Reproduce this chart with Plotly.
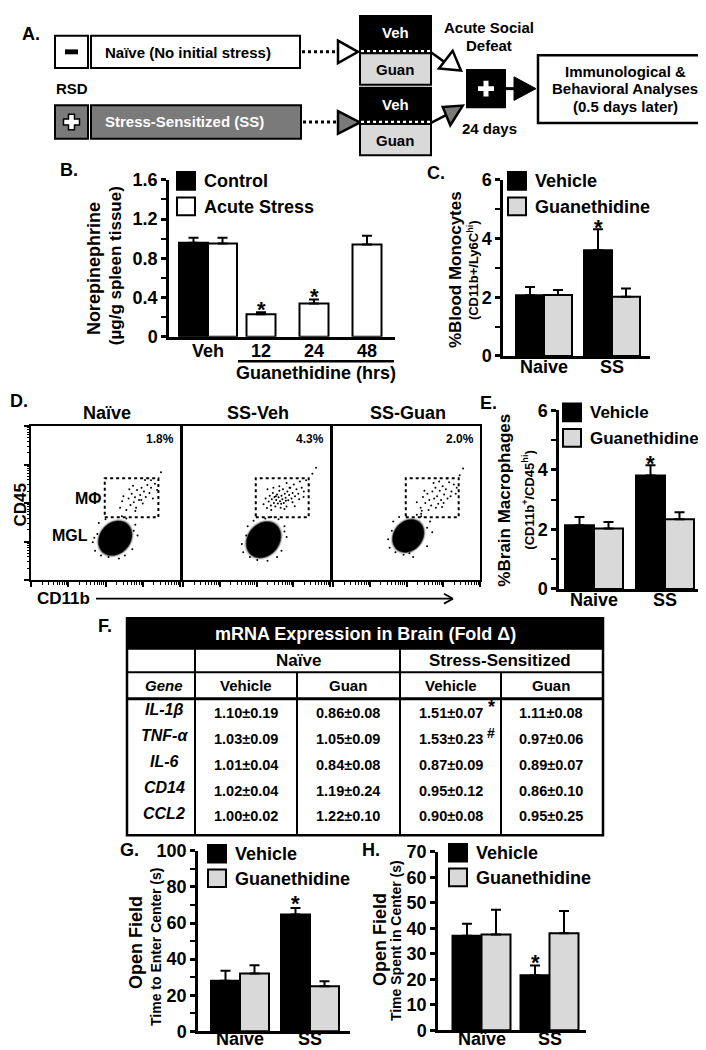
import math
import plotly.graph_objects as go

W, H = 706, 1050
FONT = "Liberation Sans"
LGRAY = "#d9d9d9"
DGRAY = "#7a7a7a"

# ---------------- data ----------------
# Panel B: norepinephrine in spleen
b_groups = ["Veh", "12", "24", "48"]
b_control = [0.96]
b_control_sem = [0.05]
b_stress = [0.95, 0.23, 0.34, 0.94]
b_stress_sem = [0.06, 0.02, 0.04, 0.09]
b_stress_star = [False, True, True, False]

# Panel C: blood monocytes
c_groups = ["Naive", "SS"]
c_vehicle = [2.07, 3.60]
c_vehicle_sem = [0.28, 0.72]
c_guan = [2.08, 2.02]
c_guan_sem = [0.17, 0.28]
c_star = [False, True]

# Panel E: brain macrophages
e_groups = ["Naive", "SS"]
e_vehicle = [2.14, 3.81]
e_vehicle_sem = [0.28, 0.35]
e_guan = [2.03, 2.34]
e_guan_sem = [0.22, 0.24]
e_star = [False, True]

# Panel G: time to enter center
g_groups = ["Naïve", "SS"]
g_vehicle = [28.0, 64.7]
g_vehicle_sem = [5.5, 3.6]
g_guan = [32.0, 25.0]
g_guan_sem = [4.6, 2.7]
g_star = [False, True]

# Panel H: time spent in center
h_groups = ["Naïve", "SS"]
h_vehicle = [37.1, 21.6]
h_vehicle_sem = [4.7, 3.8]
h_guan = [37.6, 38.1]
h_guan_sem = [9.7, 8.7]
h_star = [False, True]

# Panel D: flow cytometry (axis units 0-1000)
flow_titles = ["Naïve", "SS-Veh", "SS-Guan"]
flow_pct = ["1.8%", "4.3%", "2.0%"]
gate_x = [495, 855]
gate_y = [408, 662]
blob_cx = [565, 548, 512]
blob_cy = [272, 262, 287]
blob_major = [122, 128, 116]
blob_minor = [100, 104, 95]
mf_x = [
    [598, 612, 640, 655, 668, 676, 690, 698, 705, 712, 725, 733, 742, 750, 758, 770, 781, 795, 806, 818, 832, 846, 620, 685, 740, 700, 765, 660, 805, 872],
    [548, 562, 571, 583, 590, 598, 604, 611, 618, 622, 628, 634, 640, 645, 650, 655, 660, 664, 670, 676, 680, 686, 692, 698, 704, 710, 716, 722, 730, 738,
     746, 754, 762, 772, 784, 796, 808, 822, 838, 856, 880, 905, 575, 615, 655, 705, 745, 790, 632, 668, 700, 725, 600, 690, 760, 820],
    [570, 596, 612, 628, 642, 655, 668, 676, 688, 697, 708, 716, 726, 735, 746, 756, 768, 779, 790, 806, 822, 842, 862, 650, 700, 742, 684, 722, 775, 622,
     604, 752, 800, 885, 835],
]
mf_y = [
    [470, 512, 455, 530, 488, 560, 505, 538, 470, 585, 520, 552, 600, 498, 575, 540, 618, 565, 600, 530, 625, 585, 545, 612, 520, 448, 650, 590, 648, 700],
    [492, 530, 468, 510, 548, 485, 525, 565, 500, 540, 478, 520, 555, 498, 538, 580, 512, 470, 548, 525, 590, 500, 560, 535, 478, 575, 518, 552, 600, 530,
     565, 620, 545, 590, 560, 640, 600, 575, 648, 615, 690, 730, 590, 600, 610, 630, 505, 525, 545, 495, 515, 600, 455, 462, 480, 540],
    [505, 470, 540, 500, 560, 520, 485, 575, 530, 600, 545, 495, 580, 520, 610, 555, 590, 530, 635, 575, 620, 600, 680, 455, 470, 475, 630, 640, 660, 580,
     450, 500, 545, 725, 560],
]
halo_x = [
    [430, 445, 470, 680, 700, 640, 415, 590, 690, 455, 520, 715, 425, 630, 500, 610],
    [410, 430, 455, 670, 690, 650, 400, 575, 690, 440, 505, 705, 560, 640, 480, 600],
    [385, 400, 425, 640, 660, 600, 375, 545, 640, 410, 480, 675, 600, 520, 450, 570],
]
halo_y = [
    [190, 300, 160, 200, 360, 400, 245, 140, 320, 370, 150, 290, 275, 160, 395, 415],
    [180, 290, 150, 190, 350, 395, 235, 125, 315, 350, 130, 280, 400, 150, 385, 410],
    [210, 320, 180, 220, 380, 415, 265, 150, 340, 380, 165, 310, 430, 175, 410, 425],
]

# Panel F: table
t_genes = ["IL-1β", "TNF-α", "IL-6", "CD14", "CCL2"]
t_naive_veh = ["1.10±0.19", "1.03±0.09", "1.01±0.04", "1.02±0.04", "1.00±0.02"]
t_naive_guan = ["0.86±0.08", "1.05±0.09", "0.84±0.08", "1.19±0.24", "1.22±0.10"]
t_ss_veh = ["1.51±0.07", "1.53±0.23", "0.87±0.09", "0.95±0.12", "0.90±0.08"]
t_ss_guan = ["1.11±0.08", "0.97±0.06", "0.89±0.07", "0.86±0.10", "0.95±0.25"]
t_marks = ["*", "#", "", "", ""]

# ---------------- helpers ----------------
def fx(x):
    return x / W

def fy(y):
    return 1 - y / H

shapes = []
annotations = []
layout = dict(width=W, height=H, margin=dict(l=0, r=0, t=0, b=0),
              paper_bgcolor="white", plot_bgcolor="rgba(0,0,0,0)",
              showlegend=False, barmode="overlay",
              font=dict(family=FONT, color="black"))
fig = go.Figure()
TICKFONT = dict(family=FONT, size=18, color="black", weight="bold")


def rect(x0, y0, x1, y1, fill="white", lw=2, lc="black", dash="solid"):
    shapes.append(dict(type="rect", xref="paper", yref="paper", x0=fx(x0), x1=fx(x1),
                       y0=fy(y1), y1=fy(y0), fillcolor=fill,
                       line=dict(color=lc, width=lw, dash=dash)))


def line(x0, y0, x1, y1, w=2, c="black", dash="solid"):
    shapes.append(dict(type="line", xref="paper", yref="paper", x0=fx(x0), y0=fy(y0),
                       x1=fx(x1), y1=fy(y1), line=dict(color=c, width=w, dash=dash)))


def poly(pts, fill, lw=2, lc="black"):
    path = "M " + " L ".join(f"{fx(x):.5f},{fy(y):.5f}" for x, y in pts) + " Z"
    shapes.append(dict(type="path", xref="paper", yref="paper", path=path,
                       fillcolor=fill, line=dict(color=lc, width=lw)))


def cross(cx, cy, L, t, fill, lw, lc="black"):
    pts = [(cx - t, cy - L), (cx + t, cy - L), (cx + t, cy - t), (cx + L, cy - t),
           (cx + L, cy + t), (cx + t, cy + t), (cx + t, cy + L), (cx - t, cy + L),
           (cx - t, cy + t), (cx - L, cy + t), (cx - L, cy - t), (cx - t, cy - t)]
    poly(pts, fill, lw, lc)


def text(x, y, s, size=15, color="black", xanchor="center", angle=0, italic=False, weight="bold"):
    annotations.append(dict(xref="paper", yref="paper", x=fx(x), y=fy(y), text=s, showarrow=False,
                            xanchor=xanchor, yanchor="middle", textangle=angle,
                            font=dict(family=FONT, size=size, color=color, weight=weight,
                                      style="italic" if italic else "normal")))


def cat_label(xn, x, ypx, s, size=18):
    annotations.append(dict(xref=xn, yref="paper", x=x, y=fy(ypx), text=s, showarrow=False,
                            xanchor="center", yanchor="middle",
                            font=dict(family=FONT, size=size, color="black", weight="bold")))


def axn(n):
    s = "" if n == 1 else str(n)
    return "x" + s, "y" + s, "xaxis" + s, "yaxis" + s


def yaxis_cfg(xn, y0px, ytop, ymax, dtick, minor):
    d = dict(domain=[fy(y0px), fy(ytop)], range=[0, ymax], anchor=xn, showline=True,
             linewidth=2.5, linecolor="black", ticks="outside", ticklen=5, tickwidth=2.5,
             tickcolor="black", tick0=0, dtick=dtick, tickfont=TICKFONT,
             showgrid=False, zeroline=False, fixedrange=True)
    if minor:
        d["minor"] = dict(ticks="outside", tick0=0, dtick=minor, ticklen=5, tickwidth=2,
                          tickcolor="black", showgrid=False)
    return d


def err(sem):
    return dict(type="data", symmetric=False, array=sem, arrayminus=[0] * len(sem),
                color="black", thickness=2, width=5)


def star(xn, yn, x, y, gap):
    annotations.append(dict(xref=xn, yref=yn, x=x, y=y, text="*", showarrow=False,
                            yanchor="middle", yshift=gap - 5,
                            font=dict(family=FONT, size=22, color="black", weight="bold")))


def legend(x, ytop, labels, colors, step=26, size=18):
    for i, (lab, col) in enumerate(zip(labels, colors)):
        yy = ytop + i * step
        rect(x, yy, x + 18, yy + 18, fill=col, lw=2)
        text(x + 25, yy + 9.5, lab, size, xanchor="left")


def two_group_panel(n, xl, xr, c0, c1, bw_px, y0px, ytop, ymax, dtick, minor,
                    groups, veh, veh_sem, guan, guan_sem, stars, gap, label_y):
    xn, yn, xa, ya = axn(n)
    unit = c1 - c0
    bw = bw_px / unit
    pos = list(range(len(groups)))
    layout[xa] = dict(domain=[fx(xl), fx(xr)], range=[(xl - c0) / unit, (xr - c0) / unit],
                      anchor=yn, showline=True, linewidth=2.5, linecolor="black", ticks="",
                      showticklabels=False, showgrid=False, zeroline=False, fixedrange=True)
    layout[ya] = yaxis_cfg(xn, y0px, ytop, ymax, dtick, minor)
    fig.add_trace(go.Bar(x=[p - bw / 2 for p in pos], y=veh, width=bw,
                         marker=dict(color="black", line=dict(color="black", width=2)),
                         error_y=err(veh_sem), xaxis=xn, yaxis=yn))
    fig.add_trace(go.Bar(x=[p + bw / 2 for p in pos], y=guan, width=bw,
                         marker=dict(color=LGRAY, line=dict(color="black", width=2)),
                         error_y=err(guan_sem), xaxis=xn, yaxis=yn))
    for p, v, s, st in zip(pos, veh, veh_sem, stars):
        if st:
            star(xn, yn, p - bw / 2, v + s, gap)
    for p, g in zip(pos, groups):
        cat_label(xn, p, label_y, g)


# ---------------- Panel A ----------------
text(12, 16, "A.", 18, xanchor="left")
rect(47, 18, 80, 51)
rect(57, 32, 70, 37, fill="black", lw=0)
rect(83, 18, 292, 51)
text(95, 35, "Naïve (No initial stress)", 15, xanchor="left")
line(294, 34.5, 330, 34.5, w=3, dash="dot")
poly([(330, 23), (350, 34.5), (330, 46)], "white", 2.5)
text(64, 72, "RSD", 15)
rect(47, 89, 80, 123, fill=DGRAY)
cross(63.5, 106, 8, 3, "white", 1.5)
rect(83, 89, 293, 123, fill=DGRAY)
text(95, 106, "Stress-Sensitized (SS)", 15, color="white", xanchor="left")
line(295, 106, 330, 106, w=3, dash="dot")
poly([(330, 95), (352, 106.5), (330, 118)], DGRAY, 2.5)
# Veh / Guan boxes
rect(352, -2, 423, 35, fill="black", lw=2)
line(353, 34, 422, 34, w=2.5, c="white", dash="dot")
text(387, 15, "Veh", 15, color="white")
rect(352, 36, 423, 68, fill=LGRAY, lw=2)
text(387, 53, "Guan", 15)
rect(352, 71, 423, 107, fill="black", lw=2)
line(353, 106, 422, 106, w=2.5, c="white", dash="dot")
text(387, 88, "Veh", 15, color="white")
rect(352, 108, 423, 140, fill=LGRAY, lw=2)
text(387, 125, "Guan", 15)
# arrows to acute social defeat
line(423, 35, 438, 46, w=2.5)
poly([(444.7, 33.5), (431, 51.5), (453, 53.5)], "white", 2.5)
line(423, 107, 438, 99, w=2.5)
poly([(434.7, 90.7), (454.7, 89.3), (442.3, 109.3)], DGRAY, 2.5)
text(481, 10, "Acute Social", 15)
text(481, 28, "Defeat", 15)
rect(458, 52, 498, 92, fill="black", lw=0)
cross(478, 72, 8, 2.5, "white", 0, lc="white")
line(497, 72, 508, 72, w=3)
poly([(506, 60), (528, 72), (506, 84)], "black", 1)
rect(530, 38, 704, 107, lw=2.5)
text(617, 55, "Immunological &", 15)
text(617, 72, "Behavioral Analyses", 15)
text(617, 90, "(0.5 days later)", 15)
text(481, 113, "24 days", 15)

# ---------------- Panel B ----------------
text(50, 155, "B.", 18, xanchor="left")
xn, yn, xa, ya = axn(1)
b_unit = 53.0
b_c1 = 200.0
b_bw = 29.0 / b_unit
b_pos = [1, 2, 3, 4]
layout[xa] = dict(domain=[fx(161), fx(387)], range=[1 + (161 - b_c1) / b_unit, 1 + (387 - b_c1) / b_unit],
                  anchor=yn, showline=True, linewidth=2.5, linecolor="black", ticks="",
                  showticklabels=False, showgrid=False, zeroline=False, fixedrange=True)
layout[ya] = yaxis_cfg(xn, 325, 165, 1.6, 0.4, 0.2)
fig.add_trace(go.Bar(x=[b_pos[0] - b_bw / 2], y=b_control, width=b_bw,
                     marker=dict(color="black", line=dict(color="black", width=2)),
                     error_y=err(b_control_sem), xaxis=xn, yaxis=yn))
b_x = [b_pos[0] + b_bw / 2] + b_pos[1:]
fig.add_trace(go.Bar(x=b_x, y=b_stress, width=b_bw,
                     marker=dict(color="white", line=dict(color="black", width=2)),
                     error_y=err(b_stress_sem), xaxis=xn, yaxis=yn))
for xx, v, s, st in zip(b_x, b_stress, b_stress_sem, b_stress_star):
    if st:
        star(xn, yn, xx, v + s, 8)
for p, g in zip(b_pos, b_groups):
    cat_label(xn, p, 339, g)
legend(169, 157, ["Control", "Acute Stress"], ["black", "white"])
line(230, 350, 386, 350, w=2.5)
text(308, 362, "Guanethidine (hrs)", 18)
text(86, 256, "Norepinephrine", 18, angle=-90)
text(107, 253, "(µg/g spleen tissue)", 17, angle=-90)

# ---------------- Panel C ----------------
text(417, 158, "C.", 18, xanchor="left")
two_group_panel(2, 495, 642, 536, 604, 28, 344.5, 165, 6, 2, 1,
                c_groups, c_vehicle, c_vehicle_sem, c_guan, c_guan_sem, c_star, 7, 356)
legend(500, 157, ["Vehicle", "Guanethidine"], ["black", LGRAY])
text(447, 257, "%Blood Monocytes", 17, angle=-90)
text(465, 257, "(CD11b+/Ly6C<sup>hi</sup>)", 13, angle=-90)

# ---------------- Panel D ----------------
text(0, 390, "D.", 18, xanchor="left")
box_px = [(23, 172), (175, 322), (325, 472)]
log_minor = [250 * d + 250 * math.log10(k) for d in range(4) for k in range(2, 10)]
for i, (xl, xr) in enumerate(box_px):
    n = 3 + i
    xn, yn, xa, ya = axn(n)
    layout[xa] = dict(domain=[fx(xl), fx(xr)], range=[0, 1000], anchor=yn, showline=True, mirror=True,
                      linewidth=2, linecolor="black", ticks="outside", ticklen=5, tickwidth=1.5,
                      tickcolor="black", tickmode="array", tickvals=[0, 250, 500, 750, 1000],
                      showticklabels=False,
                      minor=dict(ticks="outside", ticklen=2.5, tickwidth=1, tickcolor="black", tickvals=log_minor),
                      showgrid=False, zeroline=False, fixedrange=True)
    yd = dict(domain=[fy(573), fy(416)], range=[0, 1000], anchor=xn, showline=True, mirror=True,
              linewidth=2, linecolor="black", showticklabels=False, showgrid=False,
              zeroline=False, fixedrange=True, ticks="")
    if i == 0:
        yd.update(ticks="outside", ticklen=5, tickwidth=1.5, tickcolor="black", tickmode="array",
                  tickvals=[0, 250, 500, 750, 1000],
                  minor=dict(ticks="outside", ticklen=2.5, tickwidth=1, tickcolor="black", tickvals=log_minor))
    layout[ya] = yd
    # blob (dense microglia population)
    th = math.radians(45)
    for scale, op in [(1.12, 0.18), (1.05, 0.55), (1.0, 1.0)]:
        a = blob_major[i] * scale
        b = blob_minor[i] * scale
        pts = []
        for k in range(48):
            t = 2 * math.pi * k / 48
            dx = a * math.cos(t) * math.cos(th) - b * math.sin(t) * math.sin(th)
            dy = a * math.cos(t) * math.sin(th) + b * math.sin(t) * math.cos(th)
            pts.append((blob_cx[i] + dx, blob_cy[i] + dy))
        path = "M " + " L ".join(f"{px:.1f},{py:.1f}" for px, py in pts) + " Z"
        shapes.append(dict(type="path", xref=xn, yref=yn, path=path,
                           fillcolor=f"rgba(0,0,0,{op})", line=dict(width=0), layer="below"))
    fig.add_trace(go.Scatter(x=mf_x[i] + halo_x[i], y=mf_y[i] + halo_y[i], mode="markers",
                             marker=dict(color="black", size=2), xaxis=xn, yaxis=yn))
    shapes.append(dict(type="rect", xref=xn, yref=yn, x0=gate_x[0], x1=gate_x[1],
                       y0=gate_y[0], y1=gate_y[1], line=dict(color="black", width=2, dash="dot")))
    text((xl + xr) / 2 + 1, 403, flow_titles[i], 18)
    text(xr - 20, 429, flow_pct[i], 12)
text(80, 490, "MΦ", 16)
text(62, 528, "MGL", 16)
text(13, 497, "CD45", 17, angle=-90)
text(27, 592, "CD11b", 17, xanchor="left")
line(88, 592, 444, 592, w=1.8)
line(436, 587, 445, 592, w=1.8)
line(436, 597, 445, 592, w=1.8)

# ---------------- Panel E ----------------
text(470, 392, "E.", 18, xanchor="left")
two_group_panel(6, 551, 693, 586, 657, 29, 582, 400, 6, 2, 1,
                e_groups, e_vehicle, e_vehicle_sem, e_guan, e_guan_sem, e_star, 7, 593)
legend(555, 393, ["Vehicle", "Guanethidine"], ["black", LGRAY], size=17)
text(497, 492, "%Brain Macrophages", 17, angle=-90)
text(520, 492, "(CD11b<sup>+</sup>/CD45<sup>hi</sup>)", 13, angle=-90)

# ---------------- Panel F (table) ----------------
text(88, 620, "F.", 18, xanchor="left")
rect(119, 612, 595, 833, lw=2.5)
rect(119, 612, 595, 643, fill="black", lw=2)
text(358, 628, "mRNA Expression in Brain (Fold Δ)", 18, color="white")
line(119, 667, 595, 667, w=2)
line(119, 694, 595, 694, w=3)
line(187, 643, 187, 833, w=2)
line(392, 643, 392, 833, w=2)
line(289, 667, 289, 833, w=2)
line(493, 667, 493, 833, w=2)
text(290, 655, "Naïve", 17)
text(492, 655, "Stress-Sensitized", 17)
text(156, 680, "Gene", 15, italic=True)
col_x = [238, 340, 443, 543]
for cx, lab in zip(col_x, ["Vehicle", "Guan", "Vehicle", "Guan"]):
    text(cx, 680, lab, 15)
row_y = [707, 733.5, 760, 786.5, 813]
for r, yy in enumerate(row_y):
    text(156, yy - 2, t_genes[r], 16, italic=True)
    for cx, col in zip(col_x, [t_naive_veh, t_naive_guan, t_ss_veh, t_ss_guan]):
        text(cx, yy + 1, col[r], 14.5)
    if t_marks[r]:
        text(483, yy - 5, t_marks[r], 18 if t_marks[r] == "*" else 14)

# ---------------- Panel G ----------------
text(110, 848, "G.", 18, xanchor="left")
two_group_panel(7, 190, 342, 232, 302, 29, 1033, 849, 100, 20, 10,
                g_groups, g_vehicle, g_vehicle_sem, g_guan, g_guan_sem, g_star, 10, 1041)
legend(200, 843, ["Vehicle", "Guanethidine"], ["black", LGRAY], step=25)
text(128, 943, "Open Field", 18, angle=-90)
text(148, 947, "Time to Enter Center (s)", 14, angle=-90)

# ---------------- Panel H ----------------
text(352, 848, "H.", 18, xanchor="left")
two_group_panel(8, 430, 578, 473.5, 541.5, 29, 1032, 850, 70, 10, None,
                h_groups, h_vehicle, h_vehicle_sem, h_guan, h_guan_sem, h_star, 8, 1041)
legend(441, 842, ["Vehicle", "Guanethidine"], ["black", LGRAY], step=25)
text(372, 940, "Open Field", 18, angle=-90)
text(388, 941, "Time Spent in Center (s)", 14, angle=-90)

layout["shapes"] = shapes
layout["annotations"] = annotations
fig.update_layout(**layout)
fig.write_html("out.html")
